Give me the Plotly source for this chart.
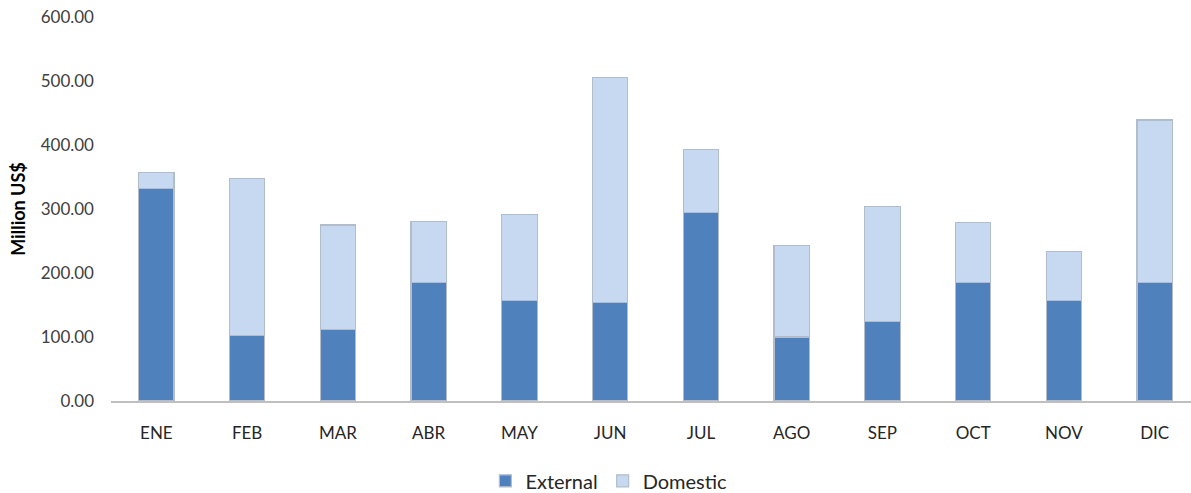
import plotly.graph_objects as go

months = ["ENE", "FEB", "MAR", "ABR", "MAY", "JUN", "JUL", "AGO", "SEP", "OCT", "NOV", "DIC"]
external = [332, 102, 112, 185, 157, 154, 295, 100, 124, 185, 157, 185]
domestic = [25, 246, 163, 96, 134, 351, 98, 143, 180, 94, 77, 254]
y_ticks = [0, 100, 200, 300, 400, 500, 600]

FONT = "Lato, 'Open Sans', sans-serif"
outline = dict(color="#b3bccb", width=1.2)

fig = go.Figure()
fig.add_trace(go.Bar(x=months, y=external, name="External",
                     marker=dict(color="#4f81bd", line=outline), width=0.39))
fig.add_trace(go.Bar(x=months, y=domestic, name="Domestic",
                     marker=dict(color="#c6d9f0", line=outline), width=0.39))

fig.update_layout(
    barmode="stack",
    width=1191, height=493,
    margin=dict(l=111, r=0, t=17, b=92, autoexpand=False),
    paper_bgcolor="white", plot_bgcolor="white",
    font=dict(family=FONT, size=17, color="#404040"),
    showlegend=True,
    legend=dict(orientation="h", xref="paper", yref="paper",
                x=0.461, xanchor="center", y=-0.208, yanchor="middle",
                font=dict(size=20, color="#262626"), traceorder="normal"),
    xaxis=dict(range=[-0.5, 11.4], showline=True, linecolor="#bfbfbf", linewidth=2,
               ticks="", showgrid=False, ticklabelstandoff=16,
               tickfont=dict(size=17, color="#262626")),
    yaxis=dict(range=[0, 600], tickvals=y_ticks, tickformat=".2f",
               showgrid=False, zeroline=False, showline=False, ticks="",
               ticklabelstandoff=16, tickfont=dict(size=17, color="#404040"),
               title=dict(text="<b>Million US$</b>", standoff=10,
                          font=dict(size=18, color="#000000"))),
)

fig.write_html("out.html")
